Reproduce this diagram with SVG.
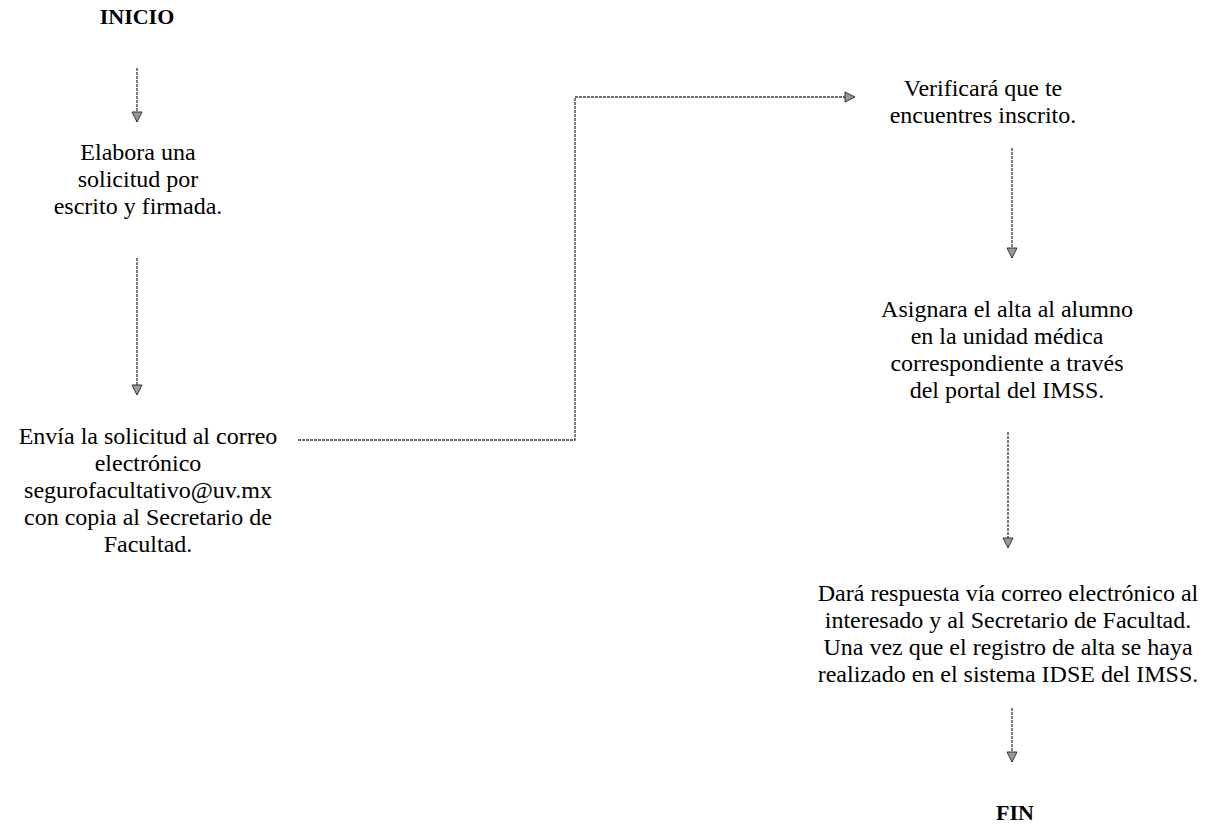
<svg xmlns="http://www.w3.org/2000/svg" width="1210" height="828" viewBox="0 0 1210 828">
<style>
text{font-family:"Liberation Serif","Times New Roman","DejaVu Serif",serif;font-size:24px;fill:#000;text-anchor:middle}
.b{font-weight:bold;font-size:22px}
.c{fill:none;stroke:#3a3a3a;stroke-width:1.3;stroke-dasharray:3 1}
</style>
<defs>
<marker id="ah" markerWidth="12" markerHeight="12" refX="11" refY="6" orient="auto" markerUnits="userSpaceOnUse">
<path d="M1,1 L11,6 L1,11 Z" fill="#999" stroke="#333" stroke-width="1"/>
</marker>
</defs>
<g id="inicio"><text class="b" x="137" y="24">INICIO</text></g>
<g id="elabora"><text x="138" y="160">Elabora una</text><text x="138" y="187">solicitud por</text><text x="138" y="214">escrito y firmada.</text></g>
<g id="envia"><text x="148" y="444">Envía la solicitud al correo</text><text x="148" y="471">electrónico</text><text x="148" y="498">segurofacultativo@uv.mx</text><text x="148" y="525">con copia al Secretario de</text><text x="148" y="552">Facultad.</text></g>
<g id="verifica"><text x="983" y="96">Verificará que te</text><text x="983" y="123">encuentres inscrito.</text></g>
<g id="asigna"><text x="1007" y="317">Asignara el alta al alumno</text><text x="1007" y="344">en la unidad médica</text><text x="1007" y="371">correspondiente a través</text><text x="1007" y="398">del portal del IMSS.</text></g>
<g id="dara"><text x="1008" y="601">Dará respuesta vía correo electrónico al</text><text x="1008" y="628">interesado y al Secretario de Facultad.</text><text x="1008" y="655">Una vez que el registro de alta se haya</text><text x="1008" y="682">realizado en el sistema IDSE del IMSS.</text></g>
<g id="fin"><text class="b" x="1015" y="820">FIN</text></g>
<g id="connectors">
<path class="c" d="M137,68 V122" marker-end="url(#ah)"/>
<path class="c" d="M137,258 V395" marker-end="url(#ah)"/>
<path class="c" d="M298,440 H575 V97 H855" marker-end="url(#ah)"/>
<path class="c" d="M1012,148 V258" marker-end="url(#ah)"/>
<path class="c" d="M1008,432 V548" marker-end="url(#ah)"/>
<path class="c" d="M1012,708 V762" marker-end="url(#ah)"/>
</g>
</svg>
